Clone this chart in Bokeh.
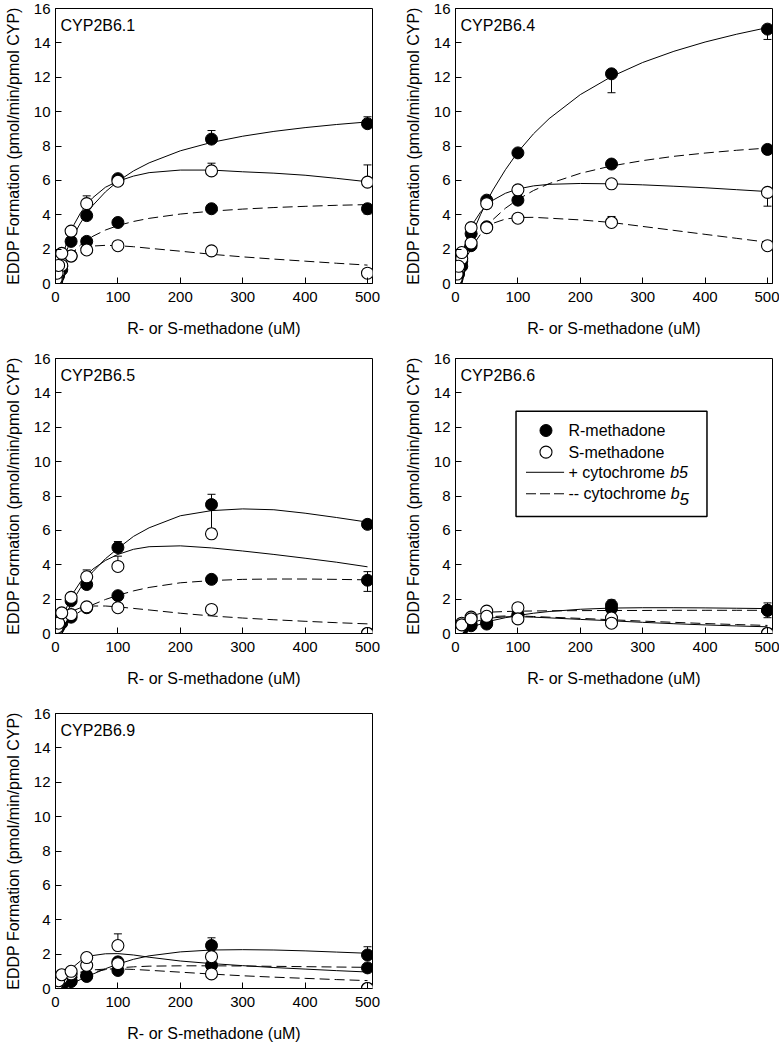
from bokeh.plotting import figure
from bokeh.layouts import gridplot
from bokeh.models import (ColumnDataSource, Whisker, TeeHead, Label, BoxAnnotation,
                          Range1d, FixedTicker)
from bokeh.embed import file_html
from bokeh.resources import INLINE

FONT = "Liberation Sans"

# ---------------- data ----------------
conc = [1, 2.5, 5, 10, 25, 50, 100, 250, 500]
curve_x = [0, 5, 10, 20, 30, 40, 50, 60, 80, 100, 125, 150, 200, 250, 300, 350, 400, 450, 500]
x_ticks = [0, 100, 200, 300, 400, 500]
y_ticks = [0, 2, 4, 6, 8, 10, 12, 14, 16]
panel_names = ["CYP2B6.1", "CYP2B6.4", "CYP2B6.5", "CYP2B6.6", "CYP2B6.9"]
Z = [0, 0, 0, 0, 0, 0, 0, 0, 0]

# CYP2B6.1  (R/S = R-/S-methadone, b5 = + cytochrome b5, nb5 = - cytochrome b5)
p1_R_b5 = [0.12, 0.3, 0.55, 1.0, 2.45, 3.95, 6.1, 8.4, 9.3]
p1_S_b5 = [0.25, 0.6, 1.05, 1.75, 3.05, 4.65, 5.95, 6.55, 5.9]
p1_R_nb5 = [0.1, 0.25, 0.45, 0.8, 1.6, 2.45, 3.55, 4.35, 4.35]
p1_S_nb5 = [0.15, 0.35, 0.65, 1.05, 1.6, 1.95, 2.2, 1.9, 0.6]
# error bars (upward / downward)
e1_R_b5_up = [0, 0, 0, 0, 0, 0, 0.15, 0.5, 0.4]
e1_S_b5_up = [0, 0, 0, 0, 0, 0.45, 0, 0.45, 1.0]
e1_R_nb5_dn = [0, 0, 0, 0, 0, 0, 0, 0, 0.3]
c1_R_b5 = [0, 0.61, 1.16, 2.1, 2.87, 3.52, 4.07, 4.55, 5.33, 5.95, 6.55, 7.02, 7.72, 8.21, 8.57, 8.85, 9.07, 9.25, 9.40]
c1_S_b5 = [0, 0.75, 1.45, 2.6, 3.45, 4.1, 4.6, 5.0, 5.6, 5.95, 6.25, 6.45, 6.6, 6.6, 6.5, 6.42, 6.3, 6.12, 5.92]
c1_R_nb5 = [0, 0.46, 0.84, 1.44, 1.89, 2.24, 2.53, 2.75, 3.11, 3.37, 3.61, 3.79, 4.04, 4.21, 4.33, 4.42, 4.49, 4.55, 4.59]
c1_S_nb5 = [0, 0.6, 1.05, 1.6, 1.88, 2.05, 2.13, 2.18, 2.22, 2.2, 2.14, 2.05, 1.88, 1.7, 1.55, 1.42, 1.3, 1.18, 1.07]

# CYP2B6.4
p2_R_b5 = [0.15, 0.35, 0.7, 1.3, 2.9, 4.85, 7.6, 12.2, 14.8]
p2_S_b5 = [0.25, 0.55, 1.0, 1.8, 3.25, 4.65, 5.45, 5.8, 5.3]
p2_R_nb5 = [0.1, 0.3, 0.55, 1.0, 2.2, 3.3, 4.85, 6.95, 7.8]
p2_S_nb5 = [0.2, 0.45, 0.85, 1.45, 2.35, 3.25, 3.8, 3.55, 2.2]
e2_R_b5_dn = [0, 0, 0, 0, 0, 0, 0, 1.1, 0.6]
e2_S_b5_dn = [0, 0, 0, 0, 0, 0, 0, 0, 0.8]
e2_S_nb5_up = [0, 0, 0, 0, 0, 0, 0, 0.35, 0]
c2_R_b5 = [0, 0.61, 1.18, 2.23, 3.16, 4.0, 4.76, 5.44, 6.62, 7.65, 8.71, 9.59, 10.99, 12.04, 12.86, 13.51, 14.05, 14.5, 14.89]
c2_S_b5 = [0, 0.9, 1.65, 2.8, 3.6, 4.15, 4.55, 4.85, 5.25, 5.5, 5.68, 5.77, 5.82, 5.8, 5.74, 5.66, 5.57, 5.46, 5.35]
c2_R_nb5 = [0, 0.49, 0.93, 1.69, 2.33, 2.86, 3.32, 3.72, 4.38, 4.89, 5.41, 5.81, 6.41, 6.84, 7.15, 7.4, 7.59, 7.75, 7.88]
c2_S_nb5 = [0, 0.7, 1.3, 2.15, 2.7, 3.05, 3.3, 3.5, 3.75, 3.84, 3.85, 3.8, 3.7, 3.55, 3.32, 3.09, 2.86, 2.63, 2.4]

# CYP2B6.5
p3_R_b5 = [0.1, 0.2, 0.4, 0.75, 1.9, 2.85, 5.0, 7.5, 6.35]
p3_S_b5 = [0.15, 0.35, 0.6, 1.2, 2.1, 3.3, 3.9, 5.8, 0.0]
p3_R_nb5 = [0.08, 0.2, 0.35, 0.6, 0.95, 1.5, 2.2, 3.15, 3.1]
p3_S_nb5 = [0.15, 0.3, 0.55, 0.9, 1.1, 1.55, 1.5, 1.4, 0.0]
e3_R_b5_up = [0, 0, 0, 0, 0, 0, 0.35, 0.6, 0]
e3_R_b5_dn = [0, 0, 0, 0, 0, 0, 0, 1.4, 0]
e3_S_b5_up = [0, 0, 0, 0, 0, 0.4, 0.6, 0, 0]
e3_R_nb5_up = [0, 0, 0, 0, 0, 0, 0, 0, 0.5]
e3_R_nb5_dn = [0, 0, 0, 0, 0, 0, 0, 0, 0.65]
c3_R_b5 = [0, 0.25, 0.6, 1.35, 2.05, 2.65, 3.15, 3.6, 4.35, 4.95, 5.65, 6.15, 6.85, 7.15, 7.25, 7.2, 7.0, 6.75, 6.48]
c3_S_b5 = [0, 0.35, 0.8, 1.7, 2.45, 3.0, 3.4, 3.75, 4.25, 4.6, 4.9, 5.05, 5.1, 4.98, 4.8, 4.6, 4.38, 4.15, 3.88]
c3_R_nb5 = [0, 0.12, 0.3, 0.72, 1.05, 1.3, 1.5, 1.68, 1.98, 2.22, 2.48, 2.68, 2.95, 3.08, 3.15, 3.17, 3.17, 3.15, 3.12]
c3_S_nb5 = [0, 0.4, 0.7, 1.1, 1.35, 1.5, 1.57, 1.6, 1.6, 1.55, 1.46, 1.37, 1.18, 1.02, 0.9, 0.8, 0.71, 0.63, 0.56]

# CYP2B6.6
p4_R_b5 = [0.02, 0.05, 0.1, 0.2, 0.45, 0.65, 1.1, 1.65, 1.35]
p4_S_b5 = [0.05, 0.12, 0.25, 0.5, 0.85, 1.0, 0.85, 0.6, 0.0]
p4_R_nb5 = [0.03, 0.08, 0.15, 0.3, 0.55, 0.55, 1.05, 1.45, 1.35]
p4_S_nb5 = [0.1, 0.25, 0.4, 0.6, 0.95, 1.3, 1.5, 0.9, 0.0]
e4_R_b5_up = [0, 0, 0, 0, 0, 0, 0, 0.3, 0.43]
e4_R_b5_dn = [0, 0, 0, 0, 0, 0, 0, 0, 0.43]
c4_R_b5 = [0, 0.05, 0.12, 0.28, 0.42, 0.55, 0.66, 0.76, 0.92, 1.05, 1.18, 1.28, 1.41, 1.48, 1.5, 1.5, 1.49, 1.47, 1.45]
c4_S_b5 = [0, 0.15, 0.28, 0.5, 0.66, 0.78, 0.86, 0.91, 0.97, 0.98, 0.95, 0.91, 0.82, 0.74, 0.65, 0.57, 0.5, 0.44, 0.39]
c4_R_nb5 = [0, 0.3, 0.55, 0.9, 1.07, 1.17, 1.22, 1.25, 1.28, 1.3, 1.31, 1.32, 1.33, 1.34, 1.34, 1.35, 1.35, 1.35, 1.35]
c4_S_nb5 = [0, 0.2, 0.38, 0.62, 0.78, 0.88, 0.95, 0.99, 1.02, 1.02, 0.99, 0.95, 0.88, 0.8, 0.72, 0.65, 0.58, 0.52, 0.47]

# CYP2B6.9
p5_R_b5 = [0.02, 0.05, 0.1, 0.2, 0.4, 0.7, 1.55, 2.5, 1.95]
p5_S_b5 = [0.1, 0.25, 0.45, 0.8, 1.0, 1.8, 2.5, 1.85, 0.0]
p5_R_nb5 = [0.02, 0.05, 0.1, 0.2, 0.45, 0.75, 1.05, 1.35, 1.2]
p5_S_nb5 = [0.08, 0.2, 0.35, 0.6, 0.85, 1.35, 1.45, 0.85, 0.0]
e5_R_b5_up = [0, 0, 0, 0, 0, 0, 0.2, 0.45, 0.48]
e5_S_b5_up = [0, 0, 0, 0, 0, 0.25, 0.68, 0, 0]
c5_R_b5 = [0, 0.05, 0.1, 0.22, 0.36, 0.52, 0.68, 0.84, 1.15, 1.42, 1.7, 1.9, 2.13, 2.24, 2.26, 2.24, 2.19, 2.12, 2.05]
c5_S_b5 = [0, 0.25, 0.5, 0.95, 1.3, 1.6, 1.8, 1.92, 2.02, 2.03, 1.95, 1.82, 1.6, 1.45, 1.33, 1.22, 1.13, 1.04, 0.96]
c5_R_nb5 = [0, 0.1, 0.2, 0.4, 0.58, 0.73, 0.85, 0.95, 1.1, 1.2, 1.26, 1.3, 1.32, 1.32, 1.31, 1.29, 1.27, 1.25, 1.23]
c5_S_nb5 = [0, 0.2, 0.38, 0.65, 0.83, 0.95, 1.03, 1.08, 1.13, 1.14, 1.11, 1.06, 0.95, 0.84, 0.74, 0.66, 0.59, 0.52, 0.46]

legend_labels = ["R-methadone", "S-methadone", "+ cytochrome", "-- cytochrome"]

DASH = "10 5"


def add_errors(p, ys, up, dn):
    for errs, sign in ((up, 1), (dn, -1)):
        xs = [c for c, e in zip(conc, errs) if e > 0]
        if not xs:
            continue
        yv = [y for y, e in zip(ys, errs) if e > 0]
        ends = [y + sign * e for y, e in zip(yv, [e for e in errs if e > 0])]
        lo = yv if sign > 0 else ends
        hi = ends if sign > 0 else yv
        src = ColumnDataSource(dict(x=xs, upper=hi, lower=lo))
        head = TeeHead(size=8, line_color="black", line_width=1)
        w = Whisker(base="x", upper="upper", lower="lower", source=src, dimension="height",
                    line_color="black", line_width=1, level="underlay",
                    upper_head=head if sign > 0 else None,
                    lower_head=head if sign < 0 else None)
        p.add_layout(w)


def make_panel(name, series, errors, curves, width, height, top, bottom, right):
    p = figure(width=width, height=height, x_range=Range1d(0, 508), y_range=Range1d(0, 16),
               output_backend="svg", toolbar_location=None,
               min_border_left=55, min_border_right=right,
               min_border_top=top, min_border_bottom=bottom)
    p.background_fill_color = "white"
    p.border_fill_color = "white"
    p.grid.visible = False
    p.outline_line_color = "black"
    p.outline_line_width = 1
    p.outline_line_alpha = 1
    p.xaxis.ticker = FixedTicker(ticks=x_ticks)
    p.yaxis.ticker = FixedTicker(ticks=y_ticks)
    for ax in (p.xaxis, p.yaxis):
        ax.axis_line_color = "black"
        ax.major_tick_line_color = "black"
        ax.major_tick_in = 6
        ax.major_tick_out = 0
        ax.minor_tick_line_color = None
        ax.major_label_text_font = FONT
        ax.major_label_text_font_size = "15px"
        ax.major_label_text_color = "black"
        ax.axis_label_text_font = FONT
        ax.axis_label_text_font_size = "16px"
        ax.axis_label_text_font_style = "normal"
        ax.axis_label_text_color = "black"
    p.xaxis.axis_label = "R- or S-methadone (uM)"
    p.yaxis.axis_label = "EDDP Formation (pmol/min/pmol CYP)"
    p.xaxis.major_label_standoff = 8
    p.yaxis.major_label_standoff = 5
    p.xaxis.axis_label_standoff = 15
    p.yaxis.axis_label_standoff = 9

    R_b5, S_b5, R_nb5, S_nb5 = series
    cR_b5, cS_b5, cR_nb5, cS_nb5 = curves
    p.line(curve_x, cR_b5, line_color="black", line_width=1)
    p.line(curve_x, cS_b5, line_color="black", line_width=1)
    p.line(curve_x, cR_nb5, line_color="black", line_width=1, line_dash=DASH)
    p.line(curve_x, cS_nb5, line_color="black", line_width=1, line_dash=DASH)

    for ys, (up, dn) in zip(series, errors):
        add_errors(p, ys, up, dn)

    for ys in (R_nb5, R_b5):
        p.scatter(conc, ys, size=12, marker="circle", fill_color="black", line_color="black",
                  line_width=1)
    for ys in (S_nb5, S_b5):
        p.scatter(conc, ys, size=12, marker="circle", fill_color="white", line_color="black",
                  line_width=1.1)

    p.add_layout(Label(x=8, y=15.0, text=name, text_font=FONT, text_font_size="16px",
                       text_baseline="middle", text_color="black"))
    return p


W1, W2 = 400, 379
panel1 = make_panel(panel_names[0], (p1_R_b5, p1_S_b5, p1_R_nb5, p1_S_nb5),
                    ((e1_R_b5_up, Z), (e1_S_b5_up, Z), (Z, e1_R_nb5_dn), (Z, Z)),
                    (c1_R_b5, c1_S_b5, c1_R_nb5, c1_S_nb5), W1, 345, 8, 62, 28)
panel2 = make_panel(panel_names[1], (p2_R_b5, p2_S_b5, p2_R_nb5, p2_S_nb5),
                    ((Z, e2_R_b5_dn), (Z, e2_S_b5_dn), (Z, Z), (e2_S_nb5_up, Z)),
                    (c2_R_b5, c2_S_b5, c2_R_nb5, c2_S_nb5), W2, 345, 8, 62, 7)
panel3 = make_panel(panel_names[2], (p3_R_b5, p3_S_b5, p3_R_nb5, p3_S_nb5),
                    ((e3_R_b5_up, e3_R_b5_dn), (e3_S_b5_up, Z), (e3_R_nb5_up, e3_R_nb5_dn), (Z, Z)),
                    (c3_R_b5, c3_S_b5, c3_R_nb5, c3_S_nb5), W1, 350, 13, 62, 28)
panel4 = make_panel(panel_names[3], (p4_R_b5, p4_S_b5, p4_R_nb5, p4_S_nb5),
                    ((e4_R_b5_up, e4_R_b5_dn), (Z, Z), (Z, Z), (Z, Z)),
                    (c4_R_b5, c4_S_b5, c4_R_nb5, c4_S_nb5), W2, 350, 13, 62, 7)
panel5 = make_panel(panel_names[4], (p5_R_b5, p5_S_b5, p5_R_nb5, p5_S_nb5),
                    ((e5_R_b5_up, Z), (e5_S_b5_up, Z), (Z, Z), (Z, Z)),
                    (c5_R_b5, c5_S_b5, c5_R_nb5, c5_S_nb5), W1, 351, 18, 58, 28)

# legend drawn inside CYP2B6.6 panel
lg = panel4
lg.add_layout(BoxAnnotation(left=97, right=403, bottom=6.81, top=12.93, fill_color="white",
                            fill_alpha=1, line_color="black", line_alpha=1, line_width=1.5,
                            level="underlay"))
ly = [11.81, 10.55, 9.38, 8.13]
lg.scatter([145], [ly[0]], size=12, marker="circle", fill_color="black", line_color="black")
lg.scatter([145], [ly[1]], size=12, marker="circle", fill_color="white", line_color="black",
           line_width=1.1)
lg.line([113, 174], [ly[2], ly[2]], line_color="black", line_width=1)
lg.line([113, 174], [ly[3], ly[3]], line_color="black", line_width=1, line_dash="10 4")
for txt, yy in zip(legend_labels, ly):
    lg.add_layout(Label(x=181, y=yy, text=txt, text_font=FONT, text_font_size="16px",
                        text_baseline="middle", text_color="black"))
lg.add_layout(Label(x=344, y=ly[2], text="b5", text_font=FONT, text_font_size="16px",
                    text_font_style="italic", text_baseline="middle", text_color="black"))
lg.add_layout(Label(x=345, y=ly[3], text="b", text_font=FONT, text_font_size="16px",
                    text_font_style="italic", text_baseline="middle", text_color="black"))
lg.add_layout(Label(x=359, y=ly[3] - 0.3, text="5", text_font=FONT, text_font_size="17px",
                    text_font_style="italic", text_baseline="middle", text_color="black"))

grid = gridplot([[panel1, panel2], [panel3, panel4], [panel5, None]], toolbar_location=None)

with open("out.html", "w") as f:
    f.write(file_html(grid, INLINE))
